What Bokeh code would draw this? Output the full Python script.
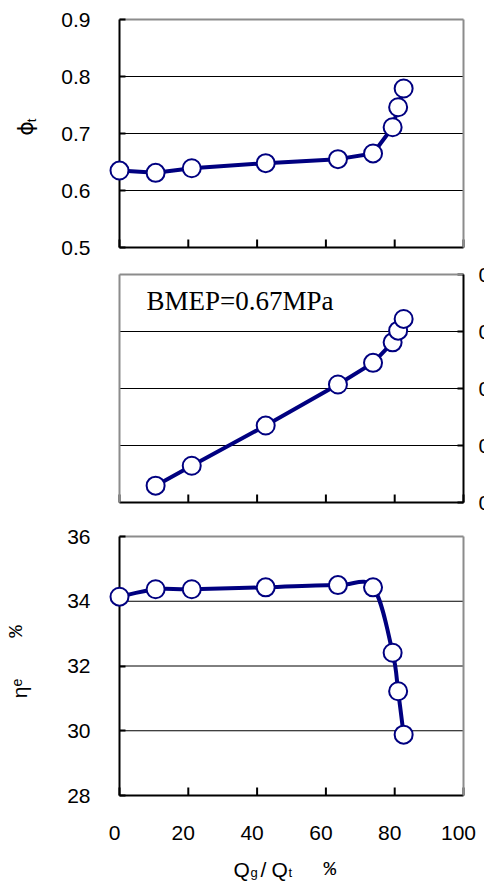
import math
from bokeh.plotting import figure
from bokeh.models import Range1d, LinearAxis, FixedTicker, Label
from bokeh.layouts import column
from bokeh.embed import file_html
from bokeh.resources import INLINE

# ---------------- data ----------------
q_ratio = [0.0, 10.5, 21.0, 42.5, 63.5, 73.7, 79.4, 81.0, 82.6]
phi_t = [0.635, 0.631, 0.639, 0.648, 0.655, 0.665, 0.711, 0.746, 0.779]
q_ratio_g = [10.5, 21.0, 42.5, 63.5, 73.7, 79.4, 81.0, 82.6]
phi_g = [0.059, 0.129, 0.270, 0.414, 0.490, 0.562, 0.603, 0.644]
eta_e = [34.14, 34.37, 34.37, 34.43, 34.50, 34.43, 32.41, 31.22, 29.88]

x_ticks = [0, 20, 40, 60, 80, 100]
x_tick_labels = ["0", "20", "40", "60", "80", "100"]
phi_t_ticks = [0.5, 0.6, 0.7, 0.8, 0.9]
phi_g_ticks = [0.0, 0.2, 0.4, 0.6, 0.8]
phi_g_tick_labels = ["0", "0.2", "0.4", "0.6", "0.8"]
eta_ticks = [28, 30, 32, 34, 36]
bmep_text = "BMEP=0.67MPa"

# ---------------- layout / style ----------------
W = 484
PX_X0, PX_X100 = 119, 463          # screen x of Qg/Qt = 0 and 100
SX = (PX_X100 - PX_X0) / 100.0     # px per x unit
NAVY = "#000080"
GRAY = "#8c8c8c"
FONT = "Liberation Sans"
TICK_X = 8                         # inward tick length of x axes (px)
TICK_Y = 6                         # inward tick length of y axes (px)


def make_fig(h, y0, y1, top_px, bottom_px):
    sy = (bottom_px - top_px) / (y1 - y0)
    xr = Range1d(0 - PX_X0 / SX, 100 + (W - PX_X100) / SX)
    yr = Range1d(y0 - (h - bottom_px) / sy, y1 + top_px / sy)
    p = figure(width=W, height=h, x_range=xr, y_range=yr, title=None,
               output_backend="svg", toolbar_location=None,
               x_axis_location=None, y_axis_location=None,
               min_border_left=0, min_border_right=0,
               min_border_top=0, min_border_bottom=0)
    p.grid.visible = False
    p.outline_line_color = None
    p.background_fill_color = "white"
    p.border_fill_color = "white"
    return p, sy


def add_axis(p, side, color, fixed, bounds, ticks=None, standoff=0):
    """Axis line at a fixed data location; tick labels only when ticks given."""
    tick_in = TICK_Y if side in ("left", "right") else TICK_X
    ax = LinearAxis(bounds=bounds, axis_line_color=color, axis_line_width=2,
                    major_tick_in=tick_in if ticks else 0, major_tick_out=0,
                    minor_tick_line_color=None, major_tick_line_color=color,
                    major_tick_line_width=2, fixed_location=fixed)
    ax.ticker = FixedTicker(ticks=list(ticks) if ticks else [], minor_ticks=[])
    ax.major_label_text_font = FONT
    ax.major_label_text_font_size = "21px"
    ax.major_label_text_color = "black"
    ax.major_label_standoff = standoff
    p.add_layout(ax, side)
    return ax


def add_x_ticks(p, sy, y0):
    """Inward tick marks on an x axis that carries no labels."""
    n = len(x_ticks)
    p.segment(x0=x_ticks, y0=[y0] * n, x1=x_ticks, y1=[y0 + TICK_X / sy] * n,
              line_color="black", line_width=2)


def add_grid(p, vals):
    n = len(vals)
    p.segment(x0=[0] * n, y0=vals, x1=[100] * n, y1=vals, line_color="black", line_width=1)


def add_label(p, text, x, y, xoff, yoff, size, font=FONT, angle=0.0,
              align="left", baseline="alphabetic"):
    p.add_layout(Label(x=x, y=y, x_offset=xoff, y_offset=yoff, text=text,
                       text_font=font, text_font_size=size, text_color="black",
                       angle=angle, angle_units="rad", text_align=align,
                       text_baseline=baseline))


def add_series(p, xs, ys, smooth=False):
    if smooth:
        n = len(xs)
        bx0, by0, bx1, by1, c0x, c0y, c1x, c1y = [], [], [], [], [], [], [], []
        for i in range(n - 1):
            im = max(i - 1, 0)
            ip = min(i + 2, n - 1)
            bx0.append(xs[i]); by0.append(ys[i])
            bx1.append(xs[i + 1]); by1.append(ys[i + 1])
            c0x.append(xs[i] + (xs[i + 1] - xs[im]) / 6.0)
            c0y.append(ys[i] + (ys[i + 1] - ys[im]) / 6.0)
            c1x.append(xs[i + 1] - (xs[ip] - xs[i]) / 6.0)
            c1y.append(ys[i + 1] - (ys[ip] - ys[i]) / 6.0)
        p.bezier(x0=bx0, y0=by0, x1=bx1, y1=by1, cx0=c0x, cy0=c0y, cx1=c1x, cy1=c1y,
                 line_color=NAVY, line_width=4, line_cap="round", level="overlay")
    else:
        p.line(xs, ys, line_color=NAVY, line_width=4, line_join="round",
               line_cap="round", level="overlay")
    p.scatter(xs, ys, marker="circle", size=18, fill_color="white",
              line_color=NAVY, line_width=2, level="overlay")


# ---------------- top panel: phi_t ----------------
t0, t1 = phi_t_ticks[0], phi_t_ticks[-1]
p1, sy1 = make_fig(260, t0, t1, 19, 247)
add_grid(p1, phi_t_ticks[1:-1])
add_x_ticks(p1, sy1, t0)
add_axis(p1, "above", GRAY, t1, (0, 100))
add_axis(p1, "right", GRAY, 100, (t0, t1))
add_axis(p1, "below", "black", t0, (0, 100))
add_axis(p1, "left", "black", 0, (t0, t1), ticks=phi_t_ticks, standoff=29)
add_series(p1, q_ratio, phi_t)
add_label(p1, "\u03d5", 0, t0, -94, 119, "22px", font="DejaVu Sans",
          angle=math.pi / 2, align="center", baseline="middle")
add_label(p1, "t", 0, t0, -88, 127, "13px",
          angle=math.pi / 2, align="center", baseline="middle")

# ---------------- middle panel: phi_g ----------------
g0, g1 = phi_g_ticks[0], phi_g_ticks[-1]
p2, sy2 = make_fig(260, g0, g1, 14, 242)
add_grid(p2, phi_g_ticks[1:-1])
add_x_ticks(p2, sy2, g0)
n_g = len(phi_g_ticks)
p2.segment(x0=[100 - TICK_Y / SX] * n_g, y0=phi_g_ticks, x1=[100] * n_g, y1=phi_g_ticks,
           line_color="black", line_width=2)
add_axis(p2, "above", GRAY, g1, (0, 100))
add_axis(p2, "left", GRAY, 0, (g0, g1))
add_axis(p2, "below", "black", g0, (0, 100))
add_axis(p2, "right", "black", 100, (g0, g1))
add_series(p2, q_ratio_g, phi_g)
add_label(p2, bmep_text, 0, g0, 27, 202, "27px", font="Liberation Serif")
for t, s in zip(phi_g_ticks, phi_g_tick_labels):
    add_label(p2, s, 100, t, 15, 0, "21px", baseline="middle")

# ---------------- bottom panel: eta_e ----------------
e0, e1 = eta_ticks[0], eta_ticks[-1]
p3, sy3 = make_fig(366, e0, e1, 16, 275)
add_grid(p3, eta_ticks[1:-1])
add_x_ticks(p3, sy3, e0)
add_axis(p3, "above", GRAY, e1, (0, 100))
add_axis(p3, "right", GRAY, 100, (e0, e1))
add_axis(p3, "below", "black", e0, (0, 100))
add_axis(p3, "left", "black", 0, (e0, e1), ticks=eta_ticks, standoff=29)
add_series(p3, q_ratio, eta_e, smooth=True)
for t, s in zip(x_ticks, x_tick_labels):
    add_label(p3, s, t, e0, -5, -37, "21px", align="center")
# y title: eta_e  %
add_label(p3, "\u03b7", 0, e0, -100, 103, "21px",
          angle=math.pi / 2, align="center", baseline="middle")
add_label(p3, "e", 0, e0, -103, 113, "14px",
          angle=math.pi / 2, align="center", baseline="middle")
add_label(p3, "%", 0, e0, -103, 164, "21px", font="Liberation Mono",
          angle=math.pi / 2, align="center", baseline="middle")
# x title: Qg/Qt  %
add_label(p3, "Q", 0, e0, 114, -74, "21px")
add_label(p3, "g", 0, e0, 131, -77, "13px")
add_label(p3, "/", 0, e0, 141, -74, "21px")
add_label(p3, "Q", 0, e0, 152, -74, "21px")
add_label(p3, "t", 0, e0, 169, -77, "13px")
add_label(p3, "%", 0, e0, 204, -74, "21px", font="Liberation Mono")

layout = column(p1, p2, p3, spacing=0)
open("out.html", "w").write(file_html(layout, INLINE))
